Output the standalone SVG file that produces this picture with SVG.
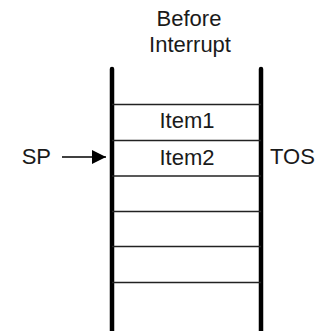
<svg xmlns="http://www.w3.org/2000/svg" width="328" height="331" viewBox="0 0 328 331">
  <style>
    text { font-family: "Liberation Sans", Arial, sans-serif; font-size: 22px; fill: #1a1a1a; }
    .mid { text-anchor: middle; }
    .wall { stroke: #000; stroke-width: 4.5; stroke-linecap: round; fill: none; }
    .slot { stroke: #222; stroke-width: 1.4; fill: none; }
    .conn { stroke: #000; stroke-width: 1.4; fill: none; }
  </style>
  <defs>
    <marker id="arrow" markerUnits="userSpaceOnUse" markerWidth="15" markerHeight="15" refX="14" refY="7.5" orient="auto">
      <path d="M0,0.5 L14,7.5 L0,14.5 Z" fill="#000"/>
    </marker>
  </defs>
  <rect width="328" height="331" fill="#fff"/>

  <g id="title">
    <text class="mid" x="189" y="26">Before</text>
    <text class="mid" x="190" y="51.5">Interrupt</text>
  </g>

  <g id="stack">
    <line class="wall" x1="112" y1="69" x2="112" y2="335"/>
    <line class="wall" x1="261" y1="69" x2="261" y2="335"/>
    <line class="slot" x1="112" y1="104.5" x2="261" y2="104.5"/>
    <line class="slot" x1="112" y1="140.5" x2="261" y2="140.5"/>
    <line class="slot" x1="112" y1="176" x2="261" y2="176"/>
    <line class="slot" x1="112" y1="211.5" x2="261" y2="211.5"/>
    <line class="slot" x1="112" y1="246.5" x2="261" y2="246.5"/>
    <line class="slot" x1="112" y1="282.5" x2="261" y2="282.5"/>
  </g>

  <g id="item1">
    <text class="mid" x="187" y="127.5">Item1</text>
  </g>
  <g id="item2">
    <text class="mid" x="187" y="164.5">Item2</text>
  </g>

  <g id="sp">
    <text x="21.7" y="164">SP</text>
  </g>
  <g id="tos">
    <text x="270" y="164">TOS</text>
  </g>

  <g id="connectors">
    <line class="conn" x1="62" y1="157" x2="106" y2="157" marker-end="url(#arrow)"/>
  </g>
</svg>
